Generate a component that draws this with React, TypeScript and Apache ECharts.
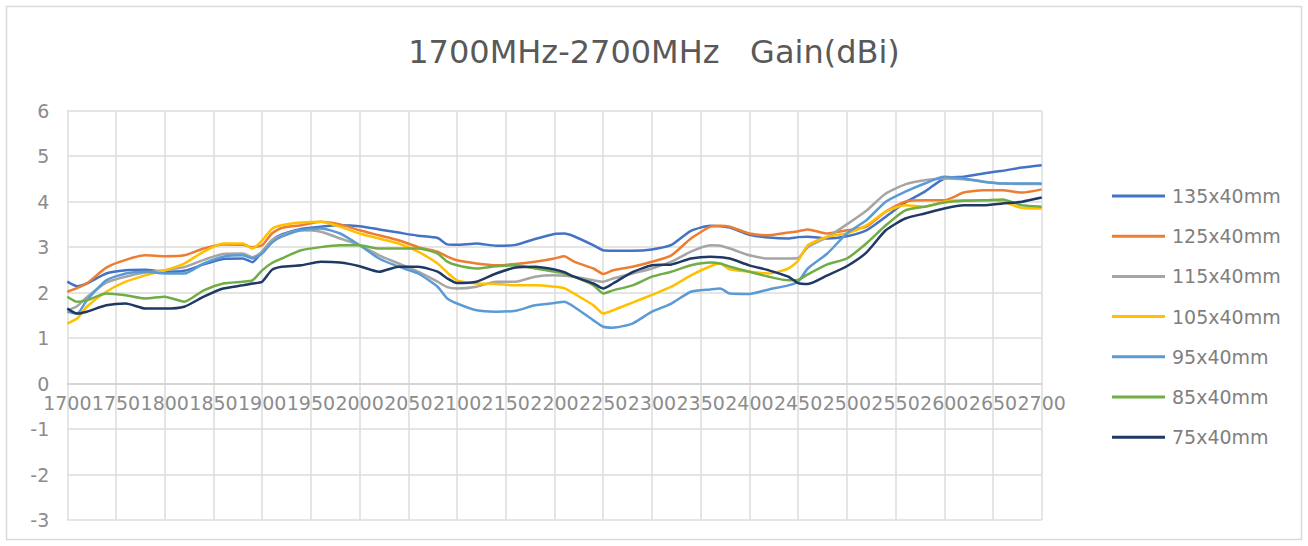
import React, { useEffect, useRef } from "react";
import * as echarts from "echarts";

const freqs = [
  1700, 1710, 1720, 1740, 1760, 1780, 1800, 1820, 1840, 1860, 1880, 1890, 1900, 1910, 1920,
  1940, 1960, 1980, 2000, 2020, 2040, 2060, 2080, 2090, 2100, 2120, 2140, 2160, 2180, 2200,
  2210, 2220, 2240, 2250, 2260, 2280, 2300, 2320, 2340, 2360, 2370, 2380, 2400, 2420, 2440,
  2450, 2460, 2480, 2500, 2520, 2540, 2560, 2580, 2600, 2620, 2640, 2660, 2680, 2700,
];

const s135 = [
  2.24, 2.14, 2.2, 2.42, 2.49, 2.5, 2.46, 2.48, 2.62, 2.74, 2.75, 2.67, 2.9, 3.15, 3.28,
  3.4, 3.45, 3.48, 3.46, 3.39, 3.32, 3.25, 3.2, 3.06, 3.05, 3.08, 3.03, 3.05, 3.18, 3.29,
  3.3, 3.24, 3.04, 2.93, 2.92, 2.92, 2.95, 3.05, 3.36, 3.47, 3.46, 3.43, 3.27, 3.21, 3.19,
  3.22, 3.23, 3.19, 3.24, 3.37, 3.67, 3.98, 4.22, 4.51, 4.55, 4.62, 4.68, 4.75, 4.8,
];
const s125 = [
  2.02, 2.1, 2.2, 2.55, 2.72, 2.82, 2.8, 2.82, 2.97, 3.06, 3.05, 3.0, 3.04, 3.3, 3.42,
  3.48, 3.56, 3.5, 3.37, 3.26, 3.15, 3.0, 2.9, 2.79, 2.71, 2.64, 2.6, 2.63, 2.68, 2.75,
  2.8, 2.68, 2.53, 2.41, 2.49, 2.57, 2.68, 2.82, 3.19, 3.45, 3.47, 3.45, 3.3, 3.26, 3.32,
  3.35, 3.39, 3.3, 3.37, 3.45, 3.78, 4.0, 4.03, 4.03, 4.2, 4.25, 4.25, 4.2, 4.27,
];
const s115 = [
  1.61, 1.7, 1.9, 2.22, 2.35, 2.44, 2.49, 2.56, 2.72, 2.85, 2.86, 2.78, 2.9, 3.15, 3.26,
  3.37, 3.34, 3.19, 3.04, 2.82, 2.64, 2.46, 2.24, 2.12, 2.09, 2.13, 2.24, 2.24, 2.35, 2.38,
  2.37, 2.35, 2.27, 2.24, 2.31, 2.42, 2.53, 2.68, 2.9, 3.04, 3.03, 2.97, 2.82, 2.75, 2.75,
  2.76, 3.0, 3.22, 3.5, 3.8, 4.18, 4.38, 4.47, 4.51, 4.49, 4.44, 4.4, 4.39, 4.39,
];
const s105 = [
  1.32, 1.43, 1.69, 2.02, 2.24, 2.38, 2.49, 2.64, 2.9, 3.08, 3.08, 2.97, 3.15, 3.4, 3.48,
  3.54, 3.56, 3.45, 3.3, 3.19, 3.08, 2.9, 2.64, 2.44, 2.27, 2.2, 2.19, 2.16, 2.16, 2.13,
  2.1, 1.98, 1.72, 1.54, 1.61, 1.78, 1.95, 2.13, 2.38, 2.58, 2.64, 2.51, 2.46, 2.42, 2.53,
  2.7, 3.04, 3.23, 3.3, 3.48, 3.78, 3.92, 3.89, 4.0, 4.03, 4.03, 4.0, 3.86, 3.85,
];
const s95 = [
  1.58, 1.54, 1.83, 2.27, 2.42, 2.46, 2.42, 2.42, 2.64, 2.79, 2.82, 2.75, 2.86, 3.1, 3.23,
  3.37, 3.41, 3.3, 3.04, 2.75, 2.57, 2.42, 2.13, 1.87, 1.76, 1.61, 1.58, 1.6, 1.72, 1.77,
  1.8, 1.69, 1.39, 1.25, 1.23, 1.32, 1.58, 1.76, 2.02, 2.07, 2.09, 1.98, 1.97, 2.07, 2.16,
  2.24, 2.53, 2.86, 3.3, 3.59, 4.0, 4.22, 4.4, 4.55, 4.51, 4.44, 4.4, 4.4, 4.4,
];
const s85 = [
  1.91, 1.8, 1.83, 1.98, 1.94, 1.87, 1.91, 1.8, 2.05, 2.2, 2.24, 2.27, 2.49, 2.65, 2.75,
  2.93, 3.0, 3.04, 3.04, 2.97, 2.97, 2.97, 2.86, 2.68, 2.6, 2.53, 2.58, 2.6, 2.53, 2.46,
  2.42, 2.35, 2.16, 1.98, 2.05, 2.16, 2.35, 2.46, 2.6, 2.66, 2.64, 2.57, 2.46, 2.35, 2.27,
  2.28, 2.4, 2.62, 2.75, 3.08, 3.48, 3.81, 3.89, 3.98, 4.02, 4.03, 4.05, 3.92, 3.89,
];
const s75 = [
  1.65, 1.54, 1.58, 1.72, 1.76, 1.65, 1.65, 1.69, 1.91, 2.09, 2.16, 2.2, 2.24, 2.5, 2.57,
  2.6, 2.68, 2.66, 2.58, 2.46, 2.57, 2.57, 2.46, 2.31, 2.21, 2.24, 2.42, 2.55, 2.57, 2.51,
  2.45, 2.35, 2.2, 2.09, 2.2, 2.45, 2.6, 2.62, 2.75, 2.79, 2.78, 2.75, 2.6, 2.49, 2.35,
  2.21, 2.19, 2.38, 2.58, 2.88, 3.37, 3.63, 3.74, 3.85, 3.92, 3.92, 3.96, 4.0, 4.09,
];

const seriesNames = ["135x40mm", "125x40mm", "115x40mm", "105x40mm", "95x40mm", "85x40mm", "75x40mm"];
const seriesValues = [s135, s125, s115, s105, s95, s85, s75];
const seriesColors = ["#4472C4", "#ED7D31", "#A5A5A5", "#FFC000", "#5B9BD5", "#70AD47", "#1F3864"];

const titleText = "1700MHz-2700MHz   Gain(dBi)";

export default function App() {
  const ref = useRef<HTMLDivElement>(null);

  useEffect(() => {
    if (!ref.current) return;
    const chart = echarts.init(ref.current, undefined, { renderer: "svg" });
    const font = "DejaVu Sans";
    chart.setOption({
      animation: false,
      backgroundColor: "#ffffff",
      title: {
        text: titleText,
        left: "center",
        top: 31,
        textStyle: { fontFamily: font, fontSize: 32, fontWeight: "normal", color: "#595959" },
      },
      graphic: [
        {
          type: "rect",
          shape: { x: 6.5, y: 6.5, width: 1295, height: 533 },
          style: { fill: "none", stroke: "#d9d9d9", lineWidth: 1.5 },
          silent: true,
        },
      ],
      legend: {
        orient: "vertical",
        left: 1107,
        top: 181,
        itemWidth: 53,
        itemHeight: 3,
        itemGap: 20.2,
        icon: "rect",
        data: seriesNames,
        textStyle: { fontFamily: font, fontSize: 19, color: "#7f7f7f", lineHeight: 20, padding: [0, 0, 0, 2] },
      },
      grid: { left: 67.3, right: 266.3, top: 110.7, bottom: 26, containLabel: false },
      xAxis: {
        type: "value",
        min: 1700,
        max: 2700,
        interval: 50,
        offset: -136.7,
        axisLine: { show: true, onZero: false, lineStyle: { color: "#d0d0d0", width: 1.5 } },
        axisTick: { show: false },
        axisLabel: {
          fontFamily: font,
          fontSize: 19,
          color: "#8c8c8c",
          margin: 10,
          showMinLabel: true,
          showMaxLabel: true,
          hideOverlap: false,
          formatter: (v: number) => String(v),
        },
        splitLine: { show: true, lineStyle: { color: "#dcdcdc", width: 1.5 } },
      },
      yAxis: {
        type: "value",
        min: -3,
        max: 6,
        interval: 1,
        axisLine: { show: false, onZero: false },
        axisTick: { show: false },
        axisLabel: { fontFamily: font, fontSize: 19, color: "#8c8c8c", margin: 18 },
        splitLine: { show: true, lineStyle: { color: "#dcdcdc", width: 1.5 } },
      },
      series: seriesNames.map((name, i) => ({
        name,
        type: "line",
        symbol: "none",
        smooth: 0.2,
        color: seriesColors[i],
        lineStyle: { width: 2.5, color: seriesColors[i] },
        data: freqs.map((f, j) => [f, seriesValues[i][j]]),
      })),
    });
    return () => chart.dispose();
  }, []);

  return (
    <div
      ref={ref}
      style={{ position: "absolute", left: 0, top: 0, width: 1308, height: 546, background: "#fff" }}
    />
  );
}
